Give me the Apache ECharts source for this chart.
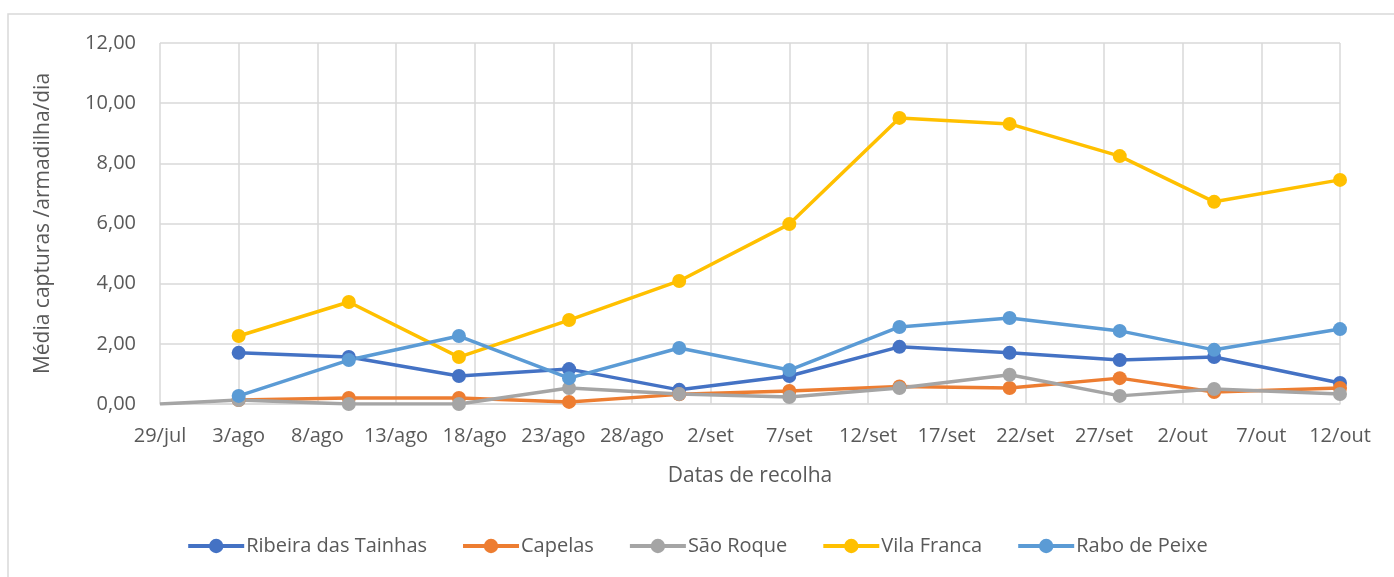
<!DOCTYPE html>
<html>
<head>
<meta charset="utf-8">
<script src="https://cdn.jsdelivr.net/npm/echarts@6/dist/echarts.min.js"></script>
<style>
  html, body { margin: 0; padding: 0; background: #fff; }
  #myChart { width: 1394px; height: 577px; }
</style>
</head>
<body>
<div id="myChart"></div>
<script>
// datas de recolha (dia/mês)
const datas = ['3/8', '10/8', '17/8', '24/8', '31/8', '7/9', '14/9', '21/9', '28/9', '4/10', '12/10'];
const ribeiraDasTainhas = [1.70, 1.56, 0.93, 1.16, 0.47, 0.93, 1.90, 1.70, 1.46, 1.56, 0.70];
const capelas = [0.13, 0.20, 0.20, 0.07, 0.32, 0.43, 0.58, 0.53, 0.86, 0.40, 0.53];
const saoRoque = [0.13, 0.00, 0.00, 0.53, 0.33, 0.23, 0.53, 0.97, 0.27, 0.50, 0.33];
const vilaFranca = [2.26, 3.39, 1.56, 2.79, 4.09, 5.98, 9.51, 9.31, 8.24, 6.72, 7.45];
const raboDePeixe = [0.27, 1.46, 2.26, 0.86, 1.86, 1.13, 2.56, 2.86, 2.43, 1.80, 2.49];
// São Roque tem um ponto extra em 29/jul sem marcador
const saoRoqueInicio = { data: '29/7', valor: 0 };
const meses = ['jan', 'fev', 'mar', 'abr', 'mai', 'jun', 'jul', 'ago', 'set', 'out', 'nov', 'dez'];

const dia0 = Date.UTC(2018, 6, 29);
function dias(s) {
  const p = s.split('/');
  return Math.round((Date.UTC(2018, +p[1] - 1, +p[0]) - dia0) / 86400000);
}
function rotulo(v) {
  const d = new Date(dia0 + v * 86400000);
  return d.getUTCDate() + '/' + meses[d.getUTCMonth()];
}
function pares(vals) {
  return vals.map((v, i) => [dias(datas[i]), v]);
}

const cor = '#595959';
const grelha = '#d9d9d9';

let myChart = echarts.init(document.getElementById('myChart'));

function serie(nome, vals, c) {
  return {
    name: nome,
    type: 'line',
    data: vals,
    symbol: 'circle',
    symbolSize: 14,
    lineStyle: { width: 3.5, color: c },
    itemStyle: { color: c },
    z: 3
  };
}

const saoRoqueDados = [{ value: [dias(saoRoqueInicio.data), saoRoqueInicio.valor], symbol: 'none' }].concat(pares(saoRoque));

let option = {
  animation: false,
  textStyle: { fontFamily: 'Open Sans, sans-serif' },
  graphic: [{
    type: 'rect',
    shape: { x: 8, y: 14, width: 1500, height: 700 },
    style: { fill: 'none', stroke: grelha, lineWidth: 1.5 },
    silent: true
  }],
  grid: { left: 160, right: 54, top: 43, bottom: 173 },
  xAxis: {
    type: 'value',
    min: 0,
    max: 75,
    interval: 5,
    name: 'Datas de recolha',
    nameLocation: 'middle',
    nameGap: 62,
    nameTextStyle: { color: cor, fontSize: 21 },
    axisLine: { show: true, lineStyle: { color: grelha, width: 1.5 } },
    axisTick: { show: false },
    axisLabel: { color: cor, fontSize: 20, margin: 22, formatter: rotulo },
    splitLine: { show: true, lineStyle: { color: grelha, width: 1.5 } }
  },
  yAxis: {
    type: 'value',
    min: 0,
    max: 12,
    interval: 2,
    name: 'Média capturas /armadilha/dia',
    nameLocation: 'middle',
    nameGap: 106,
    nameTextStyle: { color: cor, fontSize: 21 },
    axisLine: { show: false },
    axisTick: { show: false },
    axisLabel: {
      color: cor, fontSize: 20, margin: 24,
      formatter: v => v.toFixed(2).replace('.', ',')
    },
    splitLine: { show: true, lineStyle: { color: grelha, width: 1.5 } }
  },
  legend: {
    bottom: 16,
    left: 'center',
    itemWidth: 56,
    itemHeight: 18,
    itemGap: 34,
    lineStyle: { width: 4 },
    textStyle: { color: cor, fontSize: 20, padding: [0, 0, 0, -3] },
    data: ['Ribeira das Tainhas', 'Capelas', 'São Roque', 'Vila Franca', 'Rabo de Peixe']
  },
  series: [
    serie('Ribeira das Tainhas', pares(ribeiraDasTainhas), '#4472c4'),
    serie('Capelas', pares(capelas), '#ed7d31'),
    serie('São Roque', saoRoqueDados, '#a5a5a5'),
    serie('Vila Franca', pares(vilaFranca), '#ffc000'),
    serie('Rabo de Peixe', pares(raboDePeixe), '#5b9bd5')
  ]
};

myChart.setOption(option);
</script>
</body>
</html>
